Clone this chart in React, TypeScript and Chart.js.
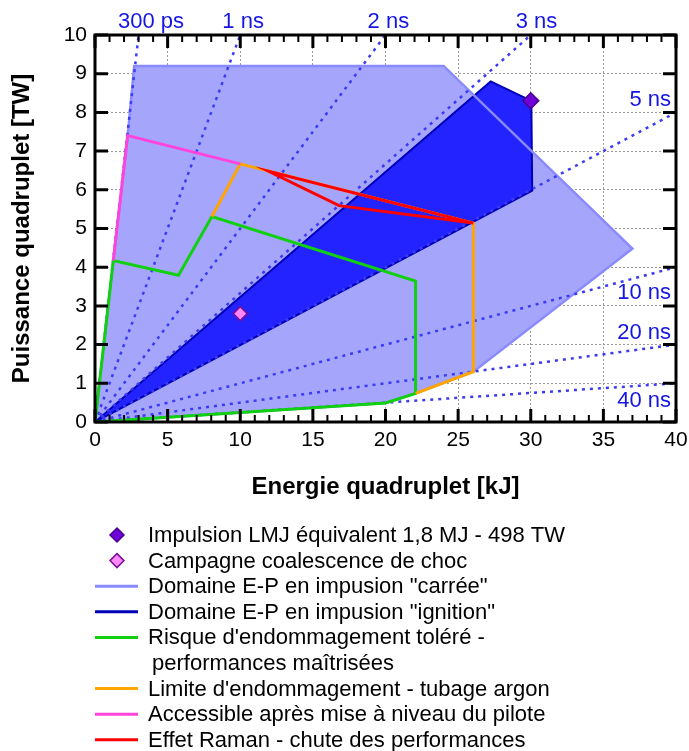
import React, { useEffect, useRef } from "react";
import { Chart, registerables } from "chart.js";
Chart.register(...registerables);

// ---------- data ----------
const xTickStep = 5;
const yTickStep = 1;
const xMin = 0, xMax = 40, yMin = 0, yMax = 10;

// "carrée" domain polygon (kJ, TW)
const carreeE = [0, 1.26, 2.25, 2.7, 24, 37, 26.05, 22.07, 20, 0];
const carreeP = [0, 4.17, 7.4, 9.2, 9.2, 4.48, 1.3, 0.74, 0.49, 0];
// "ignition" domain polygon
const ignitionE = [0, 27.24, 30.04, 30.1, 0];
const ignitionP = [0, 8.8, 8.3, 5.98, 0];
// tolerated damage risk (green)
const greenE = [0, 1.26, 5.75, 8.05, 22.07, 22.07, 20, 0];
const greenP = [0, 4.17, 3.79, 5.31, 3.64, 0.74, 0.49, 0];
// damage limit - argon tubing (orange)
const orangeE = [8.05, 10, 26.05, 26.05, 22.07];
const orangeP = [5.31, 6.67, 5.14, 1.3, 0.74];
// accessible after pilot upgrade (pink)
const pinkE = [1.26, 2.25, 10];
const pinkP = [4.17, 7.4, 6.67];
// Raman effect (red)
const ramanE = [26.05, 11.95, 16.8, 26.05];
const ramanP = [5.14, 6.48, 5.59, 5.14];
// points
const lmjE = [30];
const lmjP = [8.3];
const chocE = [10];
const chocP = [2.8];
// constant pulse-duration lines (end points, from origin)
const durLabels = ["300 ps", "1 ns", "2 ns", "3 ns", "5 ns", "10 ns", "20 ns", "40 ns"];
const durEndE = [3, 10, 20, 30, 40, 40, 40, 40];
const durEndP = [10, 10, 10, 10, 8, 4, 2, 1];

// ---------- label placement (not data) ----------
const durLabelX = [3.86, 10.2, 20.2, 30.4, 39.66, 39.66, 39.66, 39.66];
const durLabelY: (number | null)[] = [null, null, null, null, 8.32, 3.33, 2.3, 0.54];

const FONT = "'Liberation Sans', Arial, Helvetica, sans-serif";
const DOT_BLUE = "#3b3bf5";
const LABEL_BLUE = "#1515e6";

const pts = (xs: number[], ys: number[]) => xs.map((x, i) => ({ x, y: ys[i] }));

const lineDs = (key: string, label: any, xs: number[], ys: number[], color: string, order: number, extra: any = {}) => ({
  type: "line",
  key,
  label,
  data: pts(xs, ys),
  borderColor: color,
  borderWidth: 3,
  pointRadius: 0,
  tension: 0,
  fill: false,
  order,
  ...extra,
});

const legendKeys = ["lmj", "choc", "carree", "ignition", "green", "orange", "pink", "raman"];

const framePlugin = {
  id: "frameAndLegend",
  afterDraw(chart: any) {
    const { ctx, chartArea: a, scales } = chart;
    const x = scales.x, y = scales.y;
    ctx.save();
    ctx.strokeStyle = "#000";
    ctx.lineCap = "butt";
    // inward ticks on x (top and bottom)
    for (let v = xMin; v <= xMax; v += 1) {
      const px = x.getPixelForValue(v);
      const major = v % xTickStep === 0;
      const len = major ? 13 : 7;
      ctx.lineWidth = major ? 3 : 2;
      ctx.beginPath();
      ctx.moveTo(px, a.bottom);
      ctx.lineTo(px, a.bottom - len);
      ctx.moveTo(px, a.top);
      ctx.lineTo(px, a.top + len);
      ctx.stroke();
    }
    for (let v = yMin; v <= yMax; v += yTickStep) {
      const py = y.getPixelForValue(v);
      ctx.lineWidth = 3;
      ctx.beginPath();
      ctx.moveTo(a.left, py);
      ctx.lineTo(a.left + 13, py);
      ctx.moveTo(a.right, py);
      ctx.lineTo(a.right - 13, py);
      ctx.stroke();
    }
    ctx.lineWidth = 3;
    ctx.strokeRect(a.left, a.top, a.right - a.left, a.bottom - a.top);

    // duration labels
    ctx.fillStyle = LABEL_BLUE;
    ctx.font = `22px ${FONT}`;
    ctx.textBaseline = "middle";
    durLabels.forEach((t, i) => {
      const px = x.getPixelForValue(durLabelX[i]);
      const yy = durLabelY[i];
      if (yy === null) {
        ctx.textAlign = "center";
        ctx.fillText(t, px, a.top - 13);
      } else {
        ctx.textAlign = "right";
        ctx.fillText(t, px, y.getPixelForValue(yy));
      }
    });

    // legend
    ctx.font = `22px ${FONT}`;
    ctx.textAlign = "left";
    ctx.fillStyle = "#000";
    const rowH = 25.6;
    let cy = 535;
    legendKeys.forEach((k) => {
      const ds = chart.data.datasets.find((d: any) => d.key === k);
      if (!ds) return;
      if (ds.showLine === false) {
        const r = 7;
        ctx.beginPath();
        ctx.moveTo(117, cy - r);
        ctx.lineTo(117 + r, cy);
        ctx.lineTo(117, cy + r);
        ctx.lineTo(117 - r, cy);
        ctx.closePath();
        ctx.fillStyle = ds.pointBackgroundColor;
        ctx.fill();
        ctx.lineWidth = 1.5;
        ctx.strokeStyle = ds.pointBorderColor;
        ctx.stroke();
      } else {
        ctx.beginPath();
        ctx.moveTo(95, cy);
        ctx.lineTo(138, cy);
        ctx.lineWidth = 3;
        ctx.setLineDash([]);
        ctx.strokeStyle = ds.legendColor || ds.borderColor;
        ctx.stroke();
      }
      ctx.fillStyle = "#000";
      const lines: string[] = Array.isArray(ds.label) ? ds.label : [ds.label];
      lines.forEach((ln, j) => {
        ctx.fillText(ln, j === 0 ? 148 : 152, cy + 1);
        cy += rowH;
      });
    });
    ctx.restore();
  },
};

export default function App() {
  const ref = useRef<HTMLCanvasElement>(null);
  useEffect(() => {
    document.body.style.margin = "0";
    Chart.defaults.font.family = FONT;
    const durDs = durLabels.map((t, i) =>
      lineDs("dur" + i, t, [0, durEndE[i]], [0, durEndP[i]], DOT_BLUE, 5, {
        borderWidth: 2.5,
        borderDash: [3, 5],
      })
    );
    const datasets: any[] = [
      {
        type: "line",
        key: "lmj",
        label: "Impulsion LMJ équivalent 1,8 MJ - 498 TW",
        data: pts(lmjE, lmjP),
        showLine: false,
        pointStyle: "rectRot",
        pointRadius: 8,
        pointBackgroundColor: "#6f00d8",
        pointBorderColor: "#4a0090",
        pointBorderWidth: 1.5,
        order: 0,
      },
      {
        type: "line",
        key: "choc",
        label: "Campagne coalescence de choc",
        data: pts(chocE, chocP),
        showLine: false,
        pointStyle: "rectRot",
        pointRadius: 7,
        pointBackgroundColor: "#ff88ff",
        pointBorderColor: "#7a1090",
        pointBorderWidth: 1.5,
        order: 0,
      },
      lineDs("raman", "Effet Raman - chute des performances", ramanE, ramanP, "#ff0000", 1),
      lineDs("pink", "Accessible après mise à niveau du pilote", pinkE, pinkP, "#ff44dd", 2),
      lineDs("orange", "Limite d'endommagement - tubage argon", orangeE, orangeP, "#ffa500", 3),
      lineDs("green", ["Risque d'endommagement toléré -", "performances maîtrisées"], greenE, greenP, "#11d011", 4),
      ...durDs,
      lineDs("carree", 'Domaine E-P en impusion "carrée"', carreeE, carreeP, "#8a8aff", 6, { borderWidth: 2.5 }),
      lineDs("ignition", 'Domaine E-P en impusion "ignition"', ignitionE, ignitionP, "#0000b8", 7, {
        borderWidth: 2,
        fill: "shape",
        backgroundColor: "#2323ff",
      }),
      lineDs("carreeFill", "", carreeE, carreeP, "rgba(0,0,0,0)", 8, {
        borderWidth: 0,
        fill: "shape",
        backgroundColor: "#a5a6fb",
      }),
    ];
    const chart = new Chart(ref.current!, {
      type: "line",
      data: { datasets },
      options: {
        animation: false,
        responsive: false,
        devicePixelRatio: 1,
        events: [],
        layout: { padding: { left: 0, top: 35, right: 13, bottom: 239 } },
        plugins: { legend: { display: false }, tooltip: { enabled: false } },
        scales: {
          x: {
            type: "linear",
            min: xMin,
            max: xMax,
            z: 1,
            afterFit: (s: any) => {
              s.height = 90;
              s.paddingRight = 0;
              s.paddingLeft = 0;
            },
            ticks: { stepSize: xTickStep, color: "#000", font: { size: 21 }, padding: 6, maxRotation: 0 },
            grid: { color: "#9a9a9a", lineWidth: 1, drawTicks: false },
            border: { display: false, dash: [2, 2] },
            title: {
              display: true,
              text: "Energie quadruplet [kJ]",
              color: "#000",
              font: { size: 24, weight: "bold" },
              padding: { top: 0, bottom: 10 },
            },
          },
          y: {
            type: "linear",
            min: yMin,
            max: yMax,
            z: 1,
            afterFit: (s: any) => {
              s.width = 95;
              s.paddingTop = 0;
              s.paddingBottom = 0;
            },
            ticks: { stepSize: yTickStep, color: "#000", font: { size: 21 }, padding: 8 },
            grid: { color: "#9a9a9a", lineWidth: 1, drawTicks: false },
            border: { display: false, dash: [2, 2] },
            title: {
              display: true,
              text: "Puissance quadruplet [TW]",
              color: "#000",
              font: { size: 24, weight: "bold" },
              padding: { top: 8, bottom: 0 },
            },
          },
        },
      } as any,
      plugins: [framePlugin],
    } as any);
    return () => chart.destroy();
  }, []);
  return (
    <div style={{ width: 689, height: 751 }}>
      <canvas ref={ref} width={689} height={751} style={{ display: "block" }} />
    </div>
  );
}
